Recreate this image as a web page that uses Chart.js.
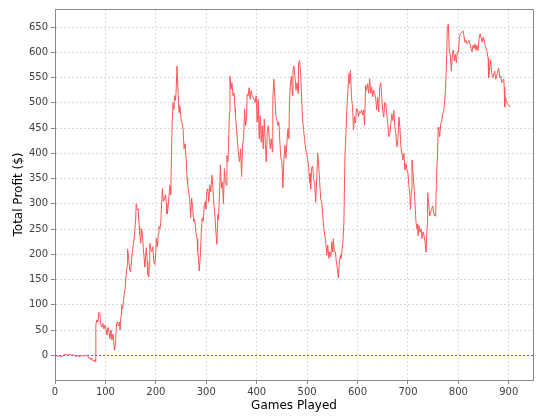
<!DOCTYPE html>
<html>
<head>
<meta charset="utf-8">
<script src="https://cdn.jsdelivr.net/npm/chart.js@4/dist/chart.umd.min.js"></script>
<style>
  html, body { margin: 0; padding: 0; background: #ffffff; }
  #wrap { width: 540px; height: 420px; position: relative; }
</style>
</head>
<body>
<div id="wrap"><canvas id="c" width="540" height="420"></canvas></div>
<script>
const xTitle = "Games Played";
const yTitle = "Total Profit ($)";
const xTicks = [0, 100, 200, 300, 400, 500, 600, 700, 800, 900];
const yTicks = [0, 50, 100, 150, 200, 250, 300, 350, 400, 450, 500, 550, 600, 650];

const games = [
  0,3,6,9,12,15,18,21,24,27,30,33,36,39,42,45,48,51,54,57,60,63,65,67,69,71,73,74,76,78,79,80,
  81,83,85,87,89,91,93,95,97,99,101,103,105,107,109,111,113,115,117,118,120,122,124,126,128,129,131,132,134,136,137,139,141,143,144,146,148,150,152,154,156,158,160,
  161,163,165,167,168,170,172,174,175,177,178,180,181,183,184,186,187,188,190,192,194,196,198,200,201,203,205,206,208,210,211,213,215,217,219,221,222,224,226,228,229,230,232,234,236,237,239,240,
  242,244,246,247,248,250,252,254,256,258,260,262,263,265,267,269,271,273,275,277,278,280,282,283,285,286,288,290,292,294,296,298,299,301,303,305,307,309,311,313,315,317,319,
  321,323,324,326,328,330,332,334,336,338,340,341,343,344,346,347,349,351,353,355,357,358,360,362,364,366,368,370,372,374,376,378,380,381,383,385,387,389,391,393,395,397,399,
  401,403,405,407,409,411,413,415,417,419,421,423,425,427,429,431,432,434,436,438,440,442,444,446,448,450,452,454,456,458,460,462,464,465,467,469,471,472,474,476,478,480,
  482,483,485,487,489,491,493,495,497,499,501,503,505,506,507,509,511,513,515,517,519,521,523,525,527,529,531,533,535,537,539,541,543,545,547,549,551,552,554,556,558,560,
  562,564,566,567,569,571,573,575,577,579,581,583,584,586,588,590,592,594,596,598,600,602,604,606,608,610,612,614,616,618,620,622,624,626,628,630,632,634,636,638,640,
  642,644,646,648,650,652,654,656,658,660,662,664,666,668,670,672,674,676,678,680,682,684,686,688,690,692,694,696,698,700,702,704,705,707,708,710,712,714,716,718,719,720,
  722,724,726,728,730,732,734,736,738,739,741,743,745,747,749,751,753,755,756,757,759,760,761,763,765,767,769,771,773,775,777,778,780,782,784,786,788,790,792,794,796,798,800,
  802,804,807,809,811,813,815,817,819,821,823,825,827,829,831,833,835,837,839,841,843,845,847,849,851,853,855,857,859,860,862,864,866,868,870,872,874,876,878,880,882,884,886,888,890,891,892,893,895,897,900,902
];

const profit = [
  0,-1,-2,-1,-3,-1,1,2,0,1,2,0,1,-1,-2,-1,-3,-1,-2,0,-1,1,-2,-6,-4,-9,-6,-10,-11,-9,-12,-13,
  60,70,66,85,81,60,56,63,52,60,53,40,55,47,33,50,30,42,20,10,24,63,66,58,66,50,79,99,92,110,119,132,158,178,210,194,171,165,191,210,224,243,270,
  300,288,290,255,240,222,250,232,213,190,175,200,213,185,160,155,175,222,210,205,215,185,180,205,232,215,240,255,250,265,290,330,305,310,318,300,280,290,315,337,318,340,448,500,487,514,505,520,
  573,520,481,495,491,468,460,448,409,419,390,350,340,324,311,272,311,292,265,270,259,240,230,207,185,167,193,240,272,265,298,304,290,324,330,304,337,324,357,337,298,280,246,
  220,279,269,311,377,331,344,300,370,344,337,396,383,406,481,553,527,540,514,520,490,475,449,423,396,383,409,354,416,429,488,455,468,517,514,530,507,524,514,511,507,501,514,
  462,507,429,475,422,455,409,468,422,383,442,455,429,409,429,403,507,547,514,475,468,455,462,422,390,383,331,390,416,390,422,449,429,501,540,553,514,566,573,551,525,540,
  519,577,584,564,512,466,447,427,408,401,388,375,342,360,329,372,375,349,342,303,349,401,375,342,309,303,277,251,238,225,198,218,192,205,195,225,205,231,205,205,185,172,
  153,185,198,192,205,225,264,394,440,492,525,558,538,564,512,492,447,473,460,489,486,473,483,480,486,476,486,456,535,525,538,519,548,519,532,512,525,519,509,486,511,
  482,530,540,511,485,472,501,498,478,459,433,439,459,478,465,485,452,439,413,426,472,452,413,400,387,400,367,380,367,361,335,315,289,328,387,361,335,302,263,250,260,237,
  257,244,250,231,244,237,224,204,257,322,302,276,283,289,296,283,276,276,328,361,407,452,446,433,459,465,478,485,504,537,602,648,656,602,596,563,596,605,583,596,579,602,601,
  630,637,640,643,633,620,624,617,620,624,617,608,601,614,608,617,604,614,604,627,637,630,620,630,624,614,608,601,588,550,569,585,560,550,556,563,547,553,563,569,550,553,540,543,547,531,492,512,505,499,495,492
];

const points = games.map((g, i) => ({ x: g, y: profit[i] }));

const frame = {
  id: 'frame',
  beforeDatasetsDraw(chart) {
    const { ctx, chartArea: a, scales } = chart;
    const y0 = scales.y.getPixelForValue(0);
    ctx.save();
    ctx.strokeStyle = '#5a5aff';
    ctx.lineWidth = 1;
    ctx.setLineDash([2, 2]);
    ctx.beginPath();
    ctx.moveTo(a.left, Math.round(y0) + 0.5);
    ctx.lineTo(a.right, Math.round(y0) + 0.5);
    ctx.stroke();
    ctx.restore();
  },
  afterDraw(chart) {
    const { ctx, chartArea: a } = chart;
    ctx.save();
    ctx.strokeStyle = '#888888';
    ctx.lineWidth = 1;
    ctx.beginPath();
    ctx.moveTo(a.left, a.top + 0.5);
    ctx.lineTo(a.right + 0.5, a.top + 0.5);
    ctx.lineTo(a.right + 0.5, a.bottom);
    ctx.stroke();
    ctx.restore();
  }
};

new Chart(document.getElementById('c'), {
  type: 'line',
  data: {
    datasets: [{
      data: points,
      borderColor: '#ff5555',
      borderWidth: 1,
      pointRadius: 0,
      tension: 0,
      fill: false
    }]
  },
  options: {
    responsive: false,
    animation: false,
    events: [],
    layout: { padding: { left: 0, right: 7, top: 5, bottom: 0 } },
    plugins: { legend: { display: false }, tooltip: { enabled: false } },
    scales: {
      x: {
        type: 'linear',
        min: 0,
        max: 948,
        afterFit(s) { s.height = 40; },
        afterBuildTicks(s) { s.ticks = xTicks.map(v => ({ value: v })); },
        grid: { color: '#d9d9d9', lineWidth: 1, drawTicks: true, tickLength: 4, tickColor: '#888888', tickBorderDash: [] },
        border: { display: true, color: '#888888', width: 1, dash: [2, 2] },
        ticks: { color: '#404040', font: { family: 'DejaVu Sans', size: 10 }, padding: 2, maxRotation: 0, autoSkip: false },
        title: { display: true, text: xTitle, color: '#000000', font: { family: 'DejaVu Sans', size: 12 }, padding: { top: 0, bottom: 7 } }
      },
      y: {
        type: 'linear',
        min: -49,
        max: 686,
        afterFit(s) { s.width = 55; },
        afterBuildTicks(s) { s.ticks = yTicks.map(v => ({ value: v })); },
        grid: { color: '#d9d9d9', lineWidth: 1, drawTicks: true, tickLength: 4, tickColor: '#888888', tickBorderDash: [] },
        border: { display: true, color: '#888888', width: 1, dash: [2, 2] },
        ticks: { color: '#404040', font: { family: 'DejaVu Sans', size: 10 }, padding: 3, autoSkip: false },
        title: { display: true, text: yTitle, color: '#000000', font: { family: 'DejaVu Sans', size: 12 }, padding: { top: 12, bottom: 0 } }
      }
    }
  },
  plugins: [frame]
});
</script>
</body>
</html>
